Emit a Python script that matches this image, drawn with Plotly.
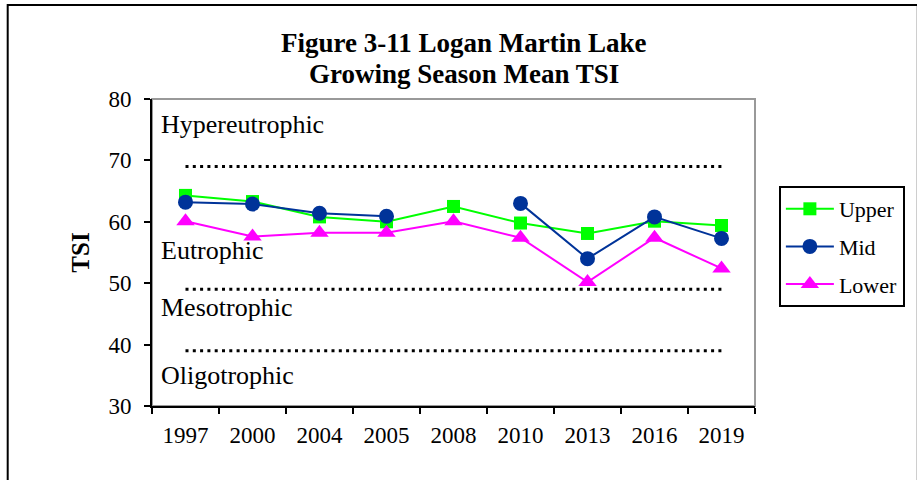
import plotly.graph_objects as go

years = ["1997", "2000", "2004", "2005", "2008", "2010", "2013", "2016", "2019"]
upper = [64.3, 63.3, 60.8, 60.0, 62.5, 59.8, 58.1, 60.1, 59.4]
mid = [63.2, 62.9, 61.4, 60.9, None, 63.0, 54.0, 60.8, 57.3]
lower = [60.1, 57.6, 58.2, 58.2, 60.1, 57.4, 50.2, 57.4, 52.4]

boundaries = [69, 49, 39]
zone_labels = ["Hypereutrophic", "Eutrophic", "Mesotrophic", "Oligotrophic"]
zone_label_y = [75.8, 55.4, 46.0, 35.0]
title_lines = ["Figure 3-11 Logan Martin Lake", "Growing Season Mean TSI"]

FONT = "Liberation Serif, Times New Roman, serif"

fig = go.Figure()

for b in boundaries:
    fig.add_trace(go.Scatter(
        x=years, y=[b] * len(years), mode="lines", showlegend=False, hoverinfo="skip",
        line=dict(color="black", width=3, dash="3px,4.3px")))

fig.add_trace(go.Scatter(
    x=years, y=upper, name="Upper", mode="lines+markers", legendgroup="u",
    line=dict(color="#00FF00", width=2),
    marker=dict(symbol="square", size=13, color="#00FF00")))
fig.add_trace(go.Scatter(
    x=years, y=mid, name="Mid", mode="lines+markers", legendgroup="m",
    line=dict(color="#003399", width=2),
    marker=dict(symbol="circle", size=15, color="#003399")))
fig.add_trace(go.Scatter(
    x=years, y=lower, name="Lower", mode="lines+markers", legendgroup="l",
    line=dict(color="#FF00FF", width=2),
    marker=dict(symbol="triangle-up", size=16, color="#FF00FF")))

for txt, yy in zip(zone_labels, zone_label_y):
    fig.add_annotation(text=txt, xref="paper", yref="y", x=0.011, y=yy,
                       xanchor="left", yanchor="middle", showarrow=False,
                       font=dict(family=FONT, size=26, color="black"))

# title, two lines placed separately
for txt, py in zip(title_lines, [43, 74]):
    fig.add_annotation(text="<b>" + txt + "</b>", xref="paper", yref="paper",
                       x=(466 - 152) / 606, y=(406 - py) / 307,
                       xanchor="center", yanchor="middle", showarrow=False,
                       font=dict(family=FONT, size=27, color="black"))

# plot area border (gray top/right)
fig.add_shape(type="rect", xref="paper", yref="paper", x0=0, x1=1, y0=0, y1=1,
              line=dict(color="#999999", width=2), layer="below")
# outer chart border
fig.add_shape(type="rect", xref="paper", yref="paper",
              x0=-0.2393, x1=1.27, y0=-0.26, y1=1.306,
              line=dict(color="black", width=2))

fig.update_layout(
    width=917, height=480,
    margin=dict(l=152, r=159, t=99, b=74),
    paper_bgcolor="white", plot_bgcolor="white",
    font=dict(family=FONT, color="black"),
    legend=dict(x=(782 - 152) / 606, xanchor="left", y=(406 - 186) / 307, yanchor="top",
                bordercolor="black", borderwidth=2, bgcolor="white", tracegroupgap=6,
                font=dict(family=FONT, size=22, color="black"), itemwidth=48),
    xaxis=dict(type="category", range=[-0.5, 8.5], showline=True, linecolor="black",
               linewidth=2, ticks="outside", ticklen=6, tickcolor="black", tickwidth=2,
               tickson="boundaries", showgrid=False, zeroline=False,
               tickfont=dict(family=FONT, size=23, color="black"), ticklabelstandoff=7),
    yaxis=dict(range=[30, 80], dtick=10, showline=True, linecolor="black", linewidth=2,
               ticks="outside", ticklen=6, tickcolor="black", tickwidth=2,
               showgrid=False, zeroline=False,
               tickfont=dict(family=FONT, size=23, color="black"), ticklabelstandoff=8,
               title=dict(text="<b>TSI</b>", standoff=12,
                          font=dict(family=FONT, size=25, color="black"))),
)

fig.write_html("out.html", config={"displayModeBar": False},
               post_script="document.body.style.margin='0';")
